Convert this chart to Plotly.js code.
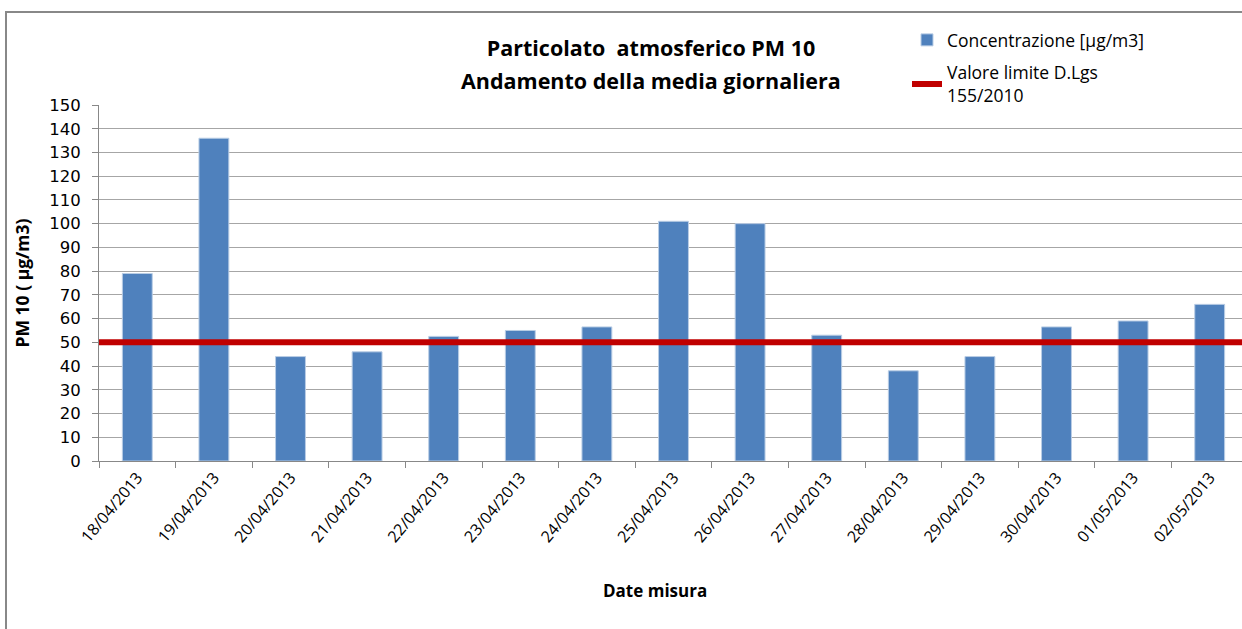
<!DOCTYPE html>
<html>
<head>
<meta charset="utf-8">
<script src="https://cdn.plot.ly/plotly-3.0.1.min.js"></script>
<style>
html,body{margin:0;padding:0;background:#fff;overflow:hidden;width:1242px;height:629px;}
#frame{position:absolute;left:5px;top:11px;width:1300px;height:700px;border-left:2px solid #888;border-top:2px solid #888;pointer-events:none;}
#chart{position:absolute;left:0;top:0;}
</style>
</head>
<body>
<div id="chart"></div>
<div id="frame"></div>
<script>
const dates = ["18/04/2013","19/04/2013","20/04/2013","21/04/2013","22/04/2013","23/04/2013","24/04/2013","25/04/2013","26/04/2013","27/04/2013","28/04/2013","29/04/2013","30/04/2013","01/05/2013","02/05/2013"];
const concentrazione = [79, 136, 44, 46, 52.5, 55, 56.5, 101, 100, 53, 38, 44, 56.5, 59, 66];
const limitValue = 50;
const limitSeries = dates.map(() => limitValue);
const limitIndex = dates.map((d, i) => i);

const calib = "'Open Sans', 'Noto Sans', sans-serif";

const traces = [
  {
    type: "bar",
    name: "Concentrazione [µg/m3]",
    legendgroup: "conc",
    x: dates,
    y: concentrazione,
    width: 0.39,
    marker: {color: "#4F81BD", line: {color: "#B9CDE5", width: 1}},
    hoverinfo: "x+y"
  },
  {
    type: "scatter",
    mode: "lines",
    name: "Valore limite D.Lgs<br>155/2010",
    legendgroup: "lim",
    x: limitIndex,
    y: limitSeries,
    xaxis: "x2",
    line: {color: "#C00000", width: 6},
    hoverinfo: "y"
  }
];

const W = 1248;
const layout = {
  width: W,
  height: 629,
  margin: {l: 99, r: 0, t: 105, b: 168, autoexpand: false},
  paper_bgcolor: "#ffffff",
  plot_bgcolor: "#ffffff",
  showlegend: true,
  title: {
    text: "<b>Particolato  atmosferico PM 10</b>",
    font: {family: calib, size: 21.5, color: "#000"},
    x: 651/W, xref: "container", xanchor: "center",
    y: 1 - 48/629, yref: "container", yanchor: "middle"
  },
  legend: {
    x: 907/W, xref: "container", xanchor: "left",
    y: 1 - 22/629, yref: "container", yanchor: "top",
    font: {family: calib, size: 17.5, color: "#000"},
    bgcolor: "rgba(0,0,0,0)",
    tracegroupgap: 7,
    itemwidth: 30
  },
  xaxis: {
    type: "category",
    range: [-0.5, 14.5],
    tickson: "boundaries",
    ticks: "outside",
    ticklen: 6,
    tickcolor: "#888",
    tickangle: -50,
    tickfont: {family: calib, size: 16, color: "#000"},
    showline: true,
    linecolor: "#888",
    linewidth: 1,
    showgrid: false,
    zeroline: false,
    fixedrange: true
  },
  xaxis2: {
    overlaying: "x",
    range: [0, 14],
    visible: false,
    fixedrange: true
  },
  yaxis: {
    range: [0, 150],
    dtick: 10,
    tick0: 0,
    ticks: "outside",
    ticklen: 6,
    tickcolor: "#888",
    ticklabelstandoff: 8,
    tickfont: {family: "'DejaVu Sans', sans-serif", size: 16.5, color: "#000"},
    showline: true,
    linecolor: "#888",
    linewidth: 1,
    showgrid: true,
    gridcolor: "#A6A6A6",
    gridwidth: 1,
    zeroline: false,
    fixedrange: true,
    title: {
      text: "<b>PM 10 ( µg/m3)</b>",
      font: {family: calib, size: 17.5, color: "#000"},
      standoff: 15
    }
  },
  annotations: [
    {
      text: "<b>Andamento della media giornaliera</b>",
      xref: "paper", yref: "paper",
      x: (651 - 99) / 1149, y: (461 - 80) / 356,
      xanchor: "center", yanchor: "middle",
      showarrow: false,
      font: {family: calib, size: 21.5, color: "#000"}
    },
    {
      text: "<b>Date misura</b>",
      xref: "paper", yref: "paper",
      x: (655 - 99) / 1149, y: -(590 - 461) / 356,
      xanchor: "center", yanchor: "middle",
      showarrow: false,
      font: {family: calib, size: 17, color: "#000"}
    }
  ]
};

Plotly.newPlot("chart", traces, layout, {displayModeBar: false, staticPlot: true});
</script>
</body>
</html>
